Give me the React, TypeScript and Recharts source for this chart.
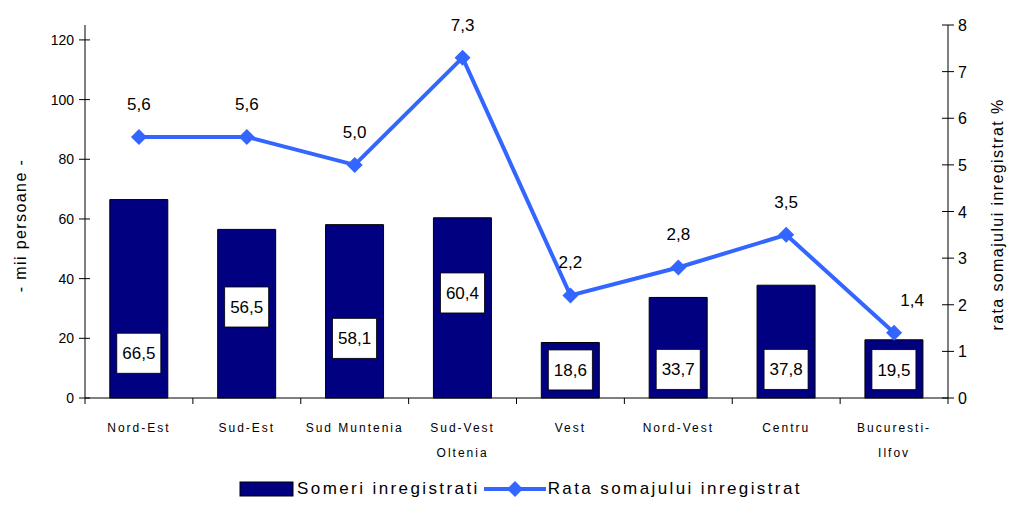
import React from "react";
import { ComposedChart, Bar, Line, XAxis, YAxis, Legend, LabelList } from "recharts";

const categories = ["Nord-Est", "Sud-Est", "Sud Muntenia", "Sud-Vest\nOltenia", "Vest", "Nord-Vest", "Centru", "Bucuresti-\nIlfov"];
const someri = [66.5, 56.5, 58.1, 60.4, 18.6, 33.7, 37.8, 19.5];
const rata = [5.6, 5.6, 5.0, 7.3, 2.2, 2.8, 3.5, 1.4];
const leftTicks = [0, 20, 40, 60, 80, 100, 120];
const rightTicks = [0, 1, 2, 3, 4, 5, 6, 7, 8];
// value (in thousands) at which each bar's label box is centred
const barLabelAnchor = [15, 30.5, 20, 35.2, 9.4, 9.6, 9.6, 9.5];

const data = categories.map((c, i) => ({ name: c, someri: someri[i], rata: rata[i] }));

const FONT = "'Liberation Sans', Arial, sans-serif";
const W = 1011;
const H = 508;
const LEFT_W = 85;
const RIGHT_W = 63;
const BAND = (W - LEFT_W - RIGHT_W) / categories.length;
const fmt = (v: number) => v.toFixed(1).replace(".", ",");

const XTick = (props: any) => {
  const { x, y, payload, index } = props;
  const lines = String(payload.value).split("\n");
  return (
    <g>
      <line x1={x + BAND / 2} x2={x + BAND / 2} y1={y} y2={y + 6} stroke="#000" />
      {index === 0 && <line x1={x - BAND / 2} x2={x - BAND / 2} y1={y} y2={y + 6} stroke="#000" />}
      {lines.map((l, i) => (
        <text key={i} x={x} y={y + 34 + i * 25} textAnchor="middle" fontSize={12} letterSpacing={2} fontFamily={FONT} fill="#000">
          {l}
        </text>
      ))}
    </g>
  );
};

const LeftTick = (props: any) => {
  const { x, y, payload } = props;
  return (
    <g>
      <line x1={x - 6} x2={x + 5} y1={y} y2={y} stroke="#000" />
      <text x={x - 11} y={y + 5} textAnchor="end" fontSize={14} fontFamily={FONT} fill="#000">
        {payload.value}
      </text>
    </g>
  );
};

const RightTick = (props: any) => {
  const { x, y, payload } = props;
  return (
    <g>
      <line x1={x - 6} x2={x + 6} y1={y} y2={y} stroke="#000" />
      <text x={x + 10} y={y + 6} textAnchor="start" fontSize={16} fontFamily={FONT} fill="#000">
        {payload.value}
      </text>
    </g>
  );
};

const LeftAxisLabel = (props: any) => {
  const vb = props.viewBox || { x: 0, y: 25, width: LEFT_W, height: 373 };
  const cx = vb.x + 26;
  const cy = vb.y + vb.height / 2 + 14;
  return (
    <text x={cx} y={cy} transform={`rotate(-90 ${cx} ${cy})`} textAnchor="middle" fontSize={16} letterSpacing={1.4} fontFamily={FONT} fill="#000">
      - mii persoane -
    </text>
  );
};

const RightAxisLabel = (props: any) => {
  const vb = props.viewBox || { x: W - RIGHT_W, y: 25, width: RIGHT_W, height: 373 };
  const cx = vb.x + 55;
  const cy = vb.y + vb.height / 2 + 3;
  return (
    <text x={cx} y={cy} transform={`rotate(-90 ${cx} ${cy})`} textAnchor="middle" fontSize={16} letterSpacing={1.4} fontFamily={FONT} fill="#000">
      rata somajului inregistrat %
    </text>
  );
};

const BarLabel = (props: any) => {
  const { x, y, width, height, index, value } = props;
  const base = y + height;
  const cy = base - (barLabelAnchor[index] * height) / value;
  const cx = x + width / 2;
  return (
    <g>
      <rect x={cx - 22} y={cy - 20} width={44} height={40} fill="#fff" stroke="#000" strokeWidth={0.8} />
      <text x={cx} y={cy + 6} textAnchor="middle" fontSize={17} fontFamily={FONT} fill="#000">
        {fmt(value)}
      </text>
    </g>
  );
};

const LineLabel = (props: any) => {
  const { x, y, value, index } = props;
  const dx = index === categories.length - 1 ? 18 : 0;
  return (
    <text x={x + dx} y={y - 27} textAnchor="middle" fontSize={17} fontFamily={FONT} fill="#000">
      {fmt(value)}
    </text>
  );
};

const Diamond = (props: any) => {
  const { cx, cy } = props;
  if (cx == null || cy == null) return null;
  const s = 8;
  return <polygon points={`${cx},${cy - s} ${cx + s},${cy} ${cx},${cy + s} ${cx - s},${cy}`} fill="#3366ff" />;
};

const LegendContent = () => (
  <div style={{ display: "flex", alignItems: "center", justifyContent: "center", height: 38, fontFamily: FONT, fontSize: 17, letterSpacing: 2.4, color: "#000", paddingLeft: 30 }}>
    <svg width={56} height={16} style={{ marginRight: 2 }}>
      <rect x={1} y={1} width={53} height={14} fill="#000080" stroke="#000" />
    </svg>
    <span style={{ marginRight: 4 }}>Someri inregistrati</span>
    <svg width={62} height={18} style={{ marginRight: 2 }}>
      <line x1={0} x2={62} y1={9} y2={9} stroke="#3366ff" strokeWidth={4} />
      <polygon points="31,1 39,9 31,17 23,9" fill="#3366ff" />
    </svg>
    <span>Rata somajului inregistrat</span>
  </div>
);

export default function App() {
  return (
    <div style={{ position: "absolute", left: 0, top: 0, width: W, height: H, background: "#fff" }}>
      <ComposedChart width={W} height={H} data={data} margin={{ top: 25, right: 0, bottom: 0, left: 0 }} barCategoryGap="23%">
        <XAxis dataKey="name" xAxisId={0} axisLine={{ stroke: "#000" }} tickLine={false} tickSize={0} tickMargin={0} height={72} tick={<XTick />} interval={0} />
        <YAxis
          yAxisId="left"
          orientation="left"
          width={LEFT_W}
          domain={[0, 125]}
          ticks={leftTicks}
          axisLine={{ stroke: "#000" }}
          tickLine={false}
          tickSize={0}
          tickMargin={0}
          tick={<LeftTick />}
          label={<LeftAxisLabel />}
        />
        <YAxis
          yAxisId="right"
          orientation="right"
          width={RIGHT_W}
          domain={[0, 8]}
          ticks={rightTicks}
          axisLine={{ stroke: "#000" }}
          tickLine={false}
          tickSize={0}
          tickMargin={0}
          tick={<RightTick />}
          label={<RightAxisLabel />}
        />
        <Bar yAxisId="left" dataKey="someri" name="Someri inregistrati" fill="#000080" stroke="#000" strokeWidth={1} isAnimationActive={false}>
          <LabelList dataKey="someri" content={<BarLabel />} />
        </Bar>
        <Line yAxisId="right" dataKey="rata" name="Rata somajului inregistrat" stroke="#3366ff" strokeWidth={4} dot={<Diamond />} activeDot={false} isAnimationActive={false}>
          <LabelList dataKey="rata" content={<LineLabel />} />
        </Line>
        <Legend verticalAlign="bottom" height={38} content={<LegendContent />} />
      </ComposedChart>
    </div>
  );
}
